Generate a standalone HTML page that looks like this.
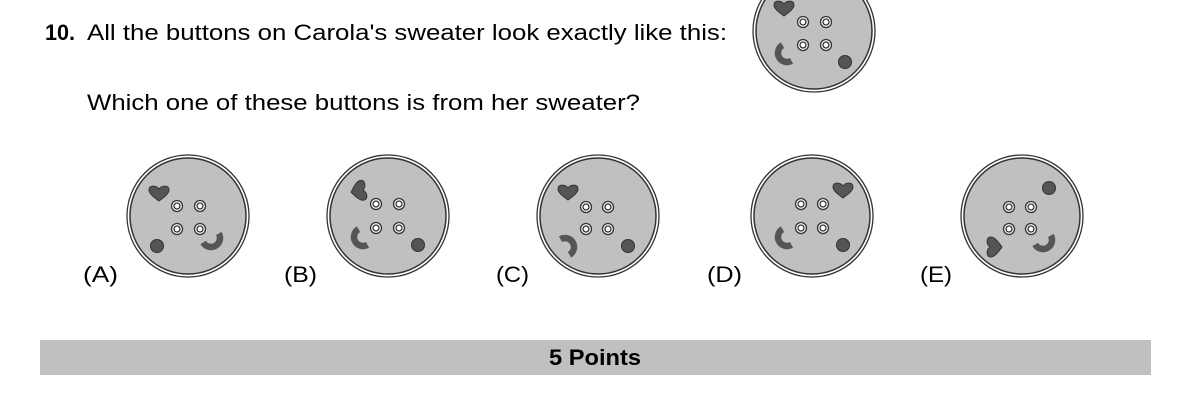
<!DOCTYPE html>
<html><head><style>
body{margin:0;width:1190px;height:415px;background:#fff;overflow:hidden;font-family:"Liberation Sans",sans-serif}
svg{position:absolute;left:0;top:0}
</style></head><body>
<svg width="1190" height="415" xmlns="http://www.w3.org/2000/svg">
<defs>
<g id="hole"><circle r="5.5" fill="#fff" stroke="#333" stroke-width="1.3"/><circle r="3" fill="none" stroke="#333" stroke-width="1.3"/></g>
<path id="heart" d="M0,7 C-4,4 -10,0 -10,-4 C-10,-9 -3,-9 0,-5 C3,-9 10,-9 10,-4 C10,0 4,4 0,7Z" fill="#555" stroke="#333" stroke-width="1"/>
<path id="cres" d="M-4.5,-7.8 A9,9 0 0 0 4.5,7.8" fill="none" stroke="#555" stroke-width="6.5"/>
<g id="disc"><circle r="61" fill="#fff" stroke="#333" stroke-width="1.3"/><circle r="58" fill="#c0c0c0" stroke="#333" stroke-width="1.5"/></g>
</defs>
<g font-family="Liberation Sans, sans-serif" font-size="22" fill="#000">
<text x="45" y="40" font-weight="bold" textLength="30" lengthAdjust="spacingAndGlyphs">10.</text>
<text x="87" y="40" textLength="640" lengthAdjust="spacingAndGlyphs">All the buttons on Carola's sweater look exactly like this:</text>
<text x="87" y="110" textLength="553" lengthAdjust="spacingAndGlyphs">Which one of these buttons is from her sweater?</text>
<text x="83" y="282" textLength="35" lengthAdjust="spacingAndGlyphs">(A)</text>
<text x="284" y="282" textLength="33" lengthAdjust="spacingAndGlyphs">(B)</text>
<text x="496" y="282" textLength="33" lengthAdjust="spacingAndGlyphs">(C)</text>
<text x="707" y="282" textLength="35" lengthAdjust="spacingAndGlyphs">(D)</text>
<text x="920" y="282" textLength="32" lengthAdjust="spacingAndGlyphs">(E)</text>
</g>
<!-- top -->
<g transform="translate(814,31)"><use href="#disc"/></g>
<use href="#heart" x="784" y="9"/>
<use href="#hole" x="803" y="22"/><use href="#hole" x="826" y="22"/><use href="#hole" x="803" y="45"/><use href="#hole" x="826" y="45"/>
<use href="#cres" x="787" y="53"/>
<circle cx="845" cy="62" r="6.5" fill="#555" stroke="#333"/>
<!-- A -->
<g transform="translate(188,216)"><use href="#disc"/></g>
<use href="#heart" x="159" y="194"/>
<use href="#hole" x="177" y="206"/><use href="#hole" x="200" y="206"/><use href="#hole" x="177" y="229"/><use href="#hole" x="200" y="229"/>
<circle cx="157" cy="246" r="6.5" fill="#555" stroke="#333"/>
<g transform="translate(211,238) rotate(-90)"><use href="#cres"/></g>
<!-- B -->
<g transform="translate(388,216)"><use href="#disc"/></g>
<g transform="translate(358,191) rotate(80)"><use href="#heart"/></g>
<use href="#hole" x="376" y="204"/><use href="#hole" x="399" y="204"/><use href="#hole" x="376" y="228"/><use href="#hole" x="399" y="228"/>
<use href="#cres" x="363" y="237"/>
<circle cx="418" cy="245" r="6.5" fill="#555" stroke="#333"/>
<!-- C -->
<g transform="translate(598,216)"><use href="#disc"/></g>
<use href="#heart" x="568" y="193"/>
<use href="#hole" x="586" y="207"/><use href="#hole" x="608" y="207"/><use href="#hole" x="586" y="229"/><use href="#hole" x="608" y="229"/>
<g transform="translate(565,247) rotate(180)"><use href="#cres"/></g>
<circle cx="628" cy="246" r="6.5" fill="#555" stroke="#333"/>
<!-- D -->
<g transform="translate(812,216)"><use href="#disc"/></g>
<use href="#heart" x="843" y="191"/>
<use href="#hole" x="801" y="204"/><use href="#hole" x="823" y="204"/><use href="#hole" x="801" y="228"/><use href="#hole" x="823" y="228"/>
<use href="#cres" x="787" y="237"/>
<circle cx="843" cy="245" r="6.5" fill="#555" stroke="#333"/>
<!-- E -->
<g transform="translate(1022,216)"><use href="#disc"/></g>
<circle cx="1049" cy="188" r="6.5" fill="#555" stroke="#333"/>
<use href="#hole" x="1009" y="207"/><use href="#hole" x="1031" y="207"/><use href="#hole" x="1009" y="229"/><use href="#hole" x="1031" y="229"/>
<g transform="translate(995,247) rotate(-90)"><use href="#heart"/></g>
<g transform="translate(1043,240) rotate(-90)"><use href="#cres"/></g>
<rect x="40" y="340" width="1111" height="35" fill="#c0c0c0"/>
<text x="549" y="365" textLength="92" lengthAdjust="spacingAndGlyphs" font-family="Liberation Sans, sans-serif" font-size="22" font-weight="bold">5 Points</text>
</svg>
</body></html>
